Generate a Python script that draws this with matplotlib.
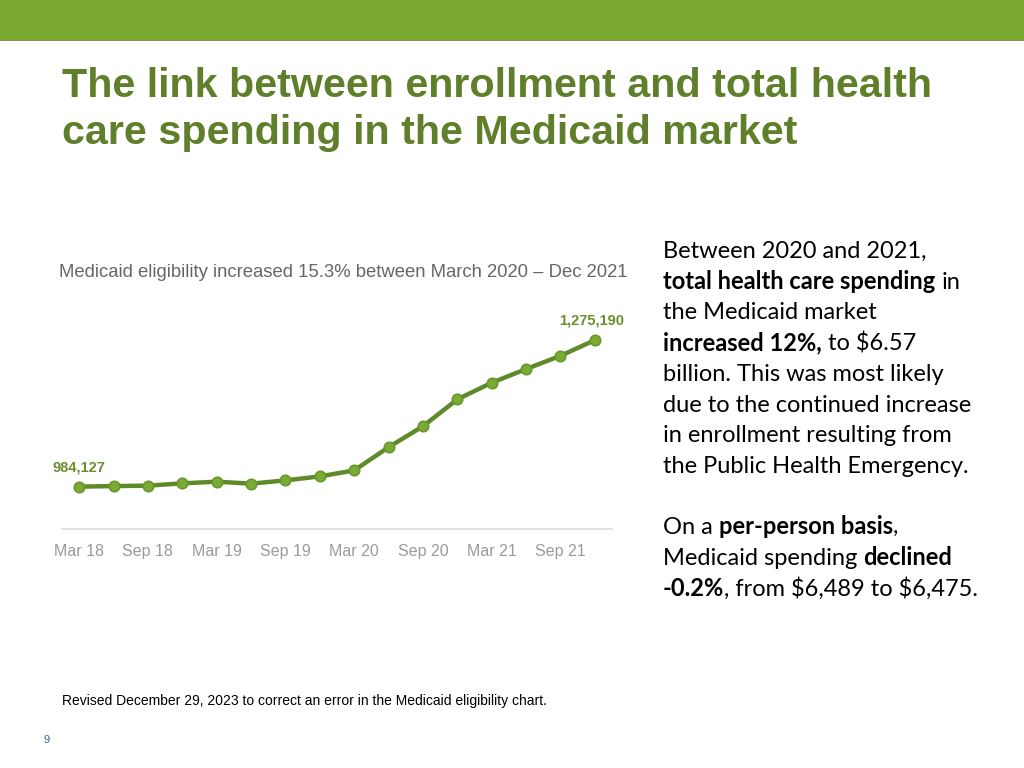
import matplotlib.pyplot as plt
from matplotlib.patches import Rectangle

# quarterly Medicaid eligibility, Mar 2018 - Dec 2021
quarters = ["Mar 18", "Jun 18", "Sep 18", "Dec 18", "Mar 19", "Jun 19", "Sep 19", "Dec 19",
            "Mar 20", "Jun 20", "Sep 20", "Dec 20", "Mar 21", "Jun 21", "Sep 21", "Dec 21"]
enrollment = [984127, 985300, 986100, 990700, 994000, 990100, 996600, 1004500,
              1016400, 1062500, 1104100, 1157600, 1190600, 1217800, 1244100, 1275190]
tick_labels = ["Mar 18", "Sep 18", "Mar 19", "Sep 19", "Mar 20", "Sep 20", "Mar 21", "Sep 21"]

title_lines = ["The link between enrollment and total health",
               "care spending in the Medicaid market"]
chart_title = "Medicaid eligibility increased 15.3% between March 2020 \u2013 Dec 2021"
footer = "Revised December 29, 2023 to correct an error in the Medicaid eligibility chart."

# right-hand text, (text, bold) runs per line; None = blank line
body = [
    [("Between 2020 and 2021,", False)],
    [("total health care spending", True), (" in", False)],
    [("the Medicaid market", False)],
    [("increased 12%,", True), (" to \\$6.57", False)],
    [("billion. This was most likely", False)],
    [("due to the continued increase", False)],
    [("in enrollment resulting from", False)],
    [("the Public Health Emergency.", False)],
    None,
    [("On a ", False), ("per-person basis", True), (",", False)],
    [("Medicaid spending ", False), ("declined", True)],
    [("-0.2%", True), (", from \\$6,489 to \\$6,475.", False)],
]

GREEN_BAR = "#79a830"
TITLE_GREEN = "#5f7f2a"
LINE_GREEN = "#5f8a2a"
SANS = "Liberation Sans"

W, H = 1024, 768
fig = plt.figure(figsize=(10.24, 7.68), dpi=100)

def fx(px):
    return px / W

def fy(py):
    return 1 - py / H

# top bar
fig.patches.append(Rectangle((0, fy(40)), 1, 40 / H, transform=fig.transFigure,
                             facecolor=GREEN_BAR, edgecolor="none"))
fig.patches.append(Rectangle((0, fy(41)), 1, 1 / H, transform=fig.transFigure,
                             facecolor="#9a8a5a", edgecolor="none"))

for i, line in enumerate(title_lines):
    fig.text(fx(62), fy(97 + i * 47), line, fontsize=29.7, weight="bold", color=TITLE_GREEN,
             family=SANS, va="baseline")

# chart
ax = fig.add_axes([fx(62), fy(529), fx(612) - fx(62), (529 - 300) / H])
x = list(range(len(quarters)))
ax.plot(x, enrollment, color=LINE_GREEN, lw=3.2, marker="o", ms=7.5,
        mfc="#7aab35", mec="#6a962e", mew=1.2, solid_capstyle="round")
ax.set_xlim(-0.5, 15.5)
ax.set_ylim(900000, 1355000)
for s in ["top", "left", "right"]:
    ax.spines[s].set_visible(False)
ax.spines["bottom"].set_color("#dddddd")
ax.spines["bottom"].set_linewidth(1.2)
ax.set_yticks([])
ax.set_xticks(x[::2])
ax.set_xticklabels(tick_labels, family=SANS, fontsize=11.5, color="#9a9a9a")
ax.tick_params(axis="x", length=0, pad=11)

for idx in [0, len(enrollment) - 1]:
    ax.annotate(f"{enrollment[idx]:,}", (x[idx], enrollment[idx]), xytext=(-2 if idx else 0, 14),
                textcoords="offset points", ha="center", va="center", family=SANS,
                fontsize=10.5, weight="bold", color="#6a8f2e")

fig.text(fx(59), fy(272), chart_title, family=SANS, fontsize=13.3, color="#666666", va="center")

# right text block with bold runs
fig.canvas.draw()
renderer = fig.canvas.get_renderer()

def text_width(s, bold, size):
    t = fig.text(0, 0, s, fontsize=size, weight="bold" if bold else "normal", family="Lato")
    w = t.get_window_extent(renderer).width
    t.remove()
    return w

BODY_SIZE = 17
space_w = text_width("a a", False, BODY_SIZE) - text_width("aa", False, BODY_SIZE)
for i, line in enumerate(body):
    if line is None:
        continue
    px = 663
    py = 258 + i * 30.7
    for text, bold in line:
        lead = len(text) - len(text.lstrip(" "))
        px += lead * space_w
        core = text.strip(" ")
        fig.text(fx(px), fy(py), core, fontsize=BODY_SIZE, weight="bold" if bold else "normal",
                 family="Lato", color="black", va="baseline")
        px += text_width(core, bold, BODY_SIZE)
        trail = len(text) - len(text.rstrip(" "))
        px += trail * space_w

fig.text(fx(62), fy(701), footer, family=SANS, fontsize=10, color="black", va="center")
fig.text(fx(44), fy(740), "9", family=SANS, fontsize=8, color="#44628a", va="center")

fig.savefig("out.png", dpi=100)
